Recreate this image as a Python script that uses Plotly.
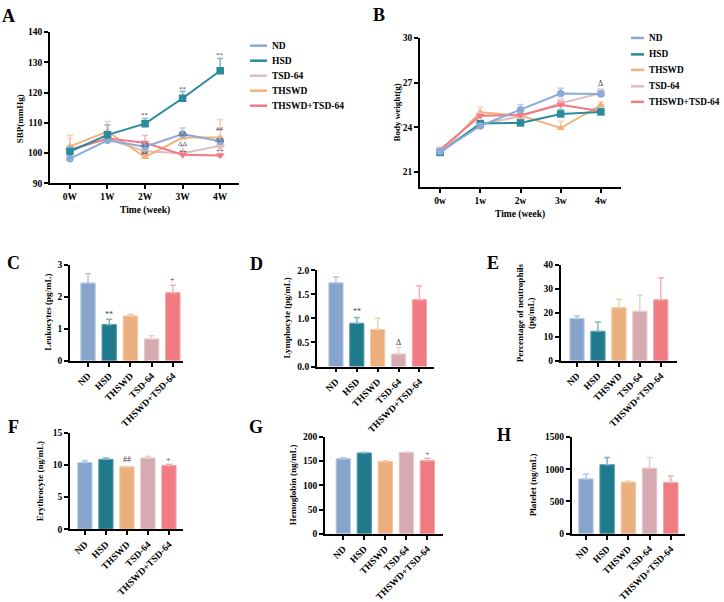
import plotly.graph_objects as go

W, H = 724, 602
FONT = "Liberation Serif"

# ---------------- data ----------------
weeks_A = ["0W", "1W", "2W", "3W", "4W"]
weeks_B = ["0w", "1w", "2w", "3w", "4w"]
groups = ["ND", "HSD", "THSWD", "TSD-64", "THSWD+TSD-64"]

# Panel A: SBP (mmHg)
sbp_nd = [98.1, 104.2, 102.1, 106.3, 103.9]
sbp_nd_err = [0.6, 0.8, 0.8, 2.0, 0.9]
sbp_hsd = [100.5, 106.0, 109.7, 118.1, 127.2]
sbp_hsd_err = [1.6, 3.3, 1.7, 2.3, 4.1]
sbp_tsd = [101.3, 104.6, 100.6, 99.9, 102.4]
sbp_tsd_err = [3.3, 0.8, 1.0, 2.5, 1.5]
sbp_thswd = [102.2, 107.1, 98.6, 105.1, 105.1]
sbp_thswd_err = [3.6, 3.3, 0.8, 1.2, 6.0]
sbp_combo = [101.0, 104.8, 103.4, 99.4, 99.2]
sbp_combo_err = [1.0, 1.2, 2.4, 0.6, 0.6]

sig_A_x = [2, 3, 4, 2, 2, 3, 3, 3, 4, 4, 4]
sig_A_y = [112.6, 121.3, 132.3, 102.6, 100.1, 106.4, 103.1, 100.4, 108.0, 104.4, 100.7]
sig_A_t = ["**", "**", "**", "ΔΔ", "##", "ΔΔ", "ΔΔ", "++", "##", "ΔΔ", "++"]

# Panel B: body weight (g)
bw_nd = [22.38, 24.10, 25.19, 26.27, 26.24]
bw_nd_err = [0.2, 0.15, 0.35, 0.35, 0.2]
bw_hsd = [22.32, 24.26, 24.30, 24.90, 25.04]
bw_hsd_err = [0.1, 0.1, 0.1, 0.3, 0.25]
bw_thswd = [22.27, 25.01, 24.80, 23.96, 25.50]
bw_thswd_err = [0.1, 0.35, 0.15, 0.45, 0.2]
bw_tsd = [22.45, 24.20, 24.75, 25.62, 26.30]
bw_tsd_err = [0.2, 0.1, 0.15, 0.3, 0.3]
bw_combo = [22.50, 24.78, 24.82, 25.52, 25.08]
bw_combo_err = [0.15, 0.2, 0.1, 0.2, 0.15]

# Bar panels
leuk = [2.43, 1.13, 1.40, 0.68, 2.13]
leuk_err = [0.29, 0.17, 0.05, 0.10, 0.23]
lymph = [1.74, 0.90, 0.77, 0.26, 1.39]
lymph_err = [0.12, 0.12, 0.24, 0.14, 0.29]
neut = [17.6, 12.3, 22.1, 20.6, 25.4]
neut_err = [1.2, 3.8, 3.5, 6.7, 9.2]
eryth = [10.4, 10.9, 9.75, 11.1, 9.95]
eryth_err = [0.3, 0.2, 0.05, 0.3, 0.2]
hemo = [155, 167, 149, 168, 151]
hemo_err = [2, 1, 2, 1, 5]
platelet = [850, 1070, 800, 1015, 795]
platelet_err = [75, 110, 15, 165, 100]

# ---------------- styles ----------------
bar_colors = ["#87a5cc", "#1f7a8c", "#ebb07e", "#d5abb1", "#f07b82"]
bar_err_colors = ["#b3c9e5", "#7fb5c1", "#f3cfae", "#ead0d4", "#f6b0b4"]
bar_edge = ["#b8cbe4", "#5a9cab", "#f2c9a3", "#e6c7cb", "#f5a5aa"]

col = {
    "ND": "#8aaad8", "HSD": "#2b8a9c", "THSWD": "#f4b27a",
    "TSD-64": "#e2bcc0", "THSWD+TSD-64": "#f27a82",
}
col_err = {
    "ND": "#b7cbe8", "HSD": "#7fb8c4", "THSWD": "#f8d0ae",
    "TSD-64": "#eed3d6", "THSWD+TSD-64": "#f7b2b6",
}

TICK = 9.5
TITLE = 9


def fx(px):
    return px / W


def fy(py):
    return 1 - py / H


fig = go.Figure()
layout = {}
annotations = []
shapes = []


def paper_text(px, py, text, size, angle=0, xanchor="center", color="black", bold=True):
    annotations.append(dict(
        x=fx(px), y=fy(py), xref="paper", yref="paper", text=text, textangle=angle,
        xanchor=xanchor, yanchor="middle", showarrow=False,
        font=dict(family=FONT, size=size, color=color, weight=("bold" if bold else "normal"))))


def axis_common():
    return dict(showline=True, linecolor="black", linewidth=1.8, ticks="outside",
                ticklen=4, tickwidth=1.5, tickcolor="black", showgrid=False,
                zeroline=False, mirror=False,
                tickfont=dict(family=FONT, size=TICK, color="black", weight="bold"))


def add_axes(i, xdom, ydom, xr, yr, xtickvals, xticktext, ytickvals, xangle=0):
    xs = "xaxis" if i == 1 else f"xaxis{i}"
    ys = "yaxis" if i == 1 else f"yaxis{i}"
    xa = axis_common()
    xa.update(domain=[fx(xdom[0]), fx(xdom[1])], range=xr, tickvals=xtickvals,
              ticktext=xticktext, anchor=("y" if i == 1 else f"y{i}"), tickangle=xangle)
    ya = axis_common()
    ya.update(domain=[fy(ydom[1]), fy(ydom[0])], range=yr, tickvals=ytickvals,
              anchor=("x" if i == 1 else f"x{i}"))
    layout[xs] = xa
    layout[ys] = ya


def data_text(x, y, xr, yr, text, size):
    annotations.append(dict(x=x, y=y, xref=xr, yref=yr, text=text, showarrow=False,
                            xanchor="center", yanchor="middle",
                            font=dict(family=FONT, size=size, color="#444")))


# ---------- Panel A ----------
add_axes(1, (50, 239), (28, 184), [-0.53, 4.5], [90, 140], [0, 1, 2, 3, 4], weeks_A,
         [90, 100, 110, 120, 130, 140])
xw = [0, 1, 2, 3, 4]
A_series = [
    ("TSD-64", sbp_tsd, sbp_tsd_err, "diamond"),
    ("THSWD", sbp_thswd, sbp_thswd_err, "triangle-up"),
    ("THSWD+TSD-64", sbp_combo, sbp_combo_err, "triangle-down"),
    ("ND", sbp_nd, sbp_nd_err, "circle"),
    ("HSD", sbp_hsd, sbp_hsd_err, "square"),
]
for name, ys, es, sym in A_series:
    fig.add_trace(go.Scatter(
        x=xw, y=ys, mode="lines+markers", name=name, showlegend=False,
        line=dict(color=col[name], width=2),
        marker=dict(symbol=sym, size=7.5, color=col[name]),
        error_y=dict(type="data", array=es, arrayminus=[0] * 5, symmetric=False,
                     color=col_err[name], thickness=1.5, width=3),
        xaxis="x", yaxis="y"))
for xx, yy, tt in zip(sig_A_x, sig_A_y, sig_A_t):
    data_text(xx, yy, "x", "y", tt, 7)

# ---------- Panel B ----------
add_axes(2, (420, 621), (34, 188), [-0.5, 4.5], [20, 30], [0, 1, 2, 3, 4], weeks_B,
         [21, 24, 27, 30])
B_series = [
    ("THSWD", bw_thswd, bw_thswd_err, "triangle-up"),
    ("TSD-64", bw_tsd, bw_tsd_err, "x"),
    ("THSWD+TSD-64", bw_combo, bw_combo_err, "triangle-down"),
    ("HSD", bw_hsd, bw_hsd_err, "square"),
    ("ND", bw_nd, bw_nd_err, "circle"),
]
for name, ys, es, sym in B_series:
    fig.add_trace(go.Scatter(
        x=xw, y=ys, mode="lines+markers", name=name, showlegend=False,
        line=dict(color=col[name], width=2),
        marker=dict(symbol=sym, size=7.5, color=col[name]),
        error_y=dict(type="data", array=es, arrayminus=[0] * 5, symmetric=False,
                     color=col_err[name], thickness=1.5, width=3),
        xaxis="x2", yaxis="y2"))
data_text(4, 26.95, "x2", "y2", "Δ", 8)

# ---------- Bar panels ----------
bar_panels = [
    (3, (70, 183), (268.3, 367.3), [-0.85, 4.48], [0, 3], [0, 1, 2, 3], leuk, leuk_err,
     "Leukocytes (pg/mL)", 48, [(1, 1.46, "**"), (4, 2.55, "+")]),
    (4, (317, 434), (274, 373.3), [-0.91, 4.7], [0, 2], [0, 0.5, 1, 1.5, 2], lymph, lymph_err,
     "Lymphocyte (pg/mL)", 287, [(1, 1.14, "**"), (3, 0.50, "Δ")]),
    (5, (560.7, 676.7), (268.3, 367.3), [-0.78, 4.76], [0, 40], [0, 10, 20, 30, 40], neut, neut_err,
     "Percentage of neutrophils<br>(pg/mL)", 525.5, []),
    (6, (70, 183), (442, 541.3), [-0.71, 4.67], [0, 15], [0, 5, 10, 15], eryth, eryth_err,
     "Erythrocyte (ng/mL)", 40, [(2, 10.9, "##"), (4, 10.9, "+")]),
    (7, (325, 442.7), (446, 546), [-0.87, 4.73], [0, 200], [0, 50, 100, 150, 200], hemo, hemo_err,
     "Hemoglobin (ng/mL)", 293, [(4, 166.5, "+")]),
    (8, (571.7, 685), (446, 546), [-0.67, 4.67], [0, 1500], [0, 500, 1000, 1500], platelet, platelet_err,
     "Platelet (ng/mL)", 533, []),
]
for idx, xd, yd, xr, yr, yt, vals, errs, ytitle, tx, sig in bar_panels:
    add_axes(idx, xd, yd, xr, yr, [0, 1, 2, 3, 4], groups, yt, xangle=-45)
    if idx == 4:
        layout[f"yaxis{idx}"]["tickformat"] = ".1f"
    for k in range(5):
        fig.add_trace(go.Bar(
            x=[k], y=[vals[k]], width=0.68, showlegend=False,
            marker=dict(color=bar_colors[k], line=dict(color=bar_edge[k], width=1)),
            error_y=dict(type="data", array=[errs[k]], arrayminus=[0], symmetric=False,
                         color=bar_err_colors[k], thickness=1.5, width=3),
            xaxis=f"x{idx}", yaxis=f"y{idx}"))
    paper_text(tx, (yd[0] + yd[1]) / 2, ytitle, TITLE, angle=-90)
    for sx, sy, st in sig:
        data_text(sx, sy, f"x{idx}", f"y{idx}", st, 8)

# ---------- Axis titles for A/B ----------
paper_text(20, 118, "SBP(mmHg)", TITLE, angle=-90)
paper_text(145, 212, "Time (week)", 9.5)
paper_text(397, 111, "Body weight(g)", TITLE, angle=-90)
paper_text(520, 216, "Time (week)", 9.5)

# ---------- Panel letters ----------
letters = [("A", 8.5, 11), ("B", 379, 10), ("C", 13.5, 266), ("D", 256, 267.5), ("E", 493, 266),
           ("F", 13.5, 436), ("G", 256, 436), ("H", 504, 444.5)]
for t, x, y in letters:
    paper_text(x, y, t, 18)

# ---------- Manual legends ----------
legA = ["ND", "HSD", "TSD-64", "THSWD", "THSWD+TSD-64"]
legA_y = [42, 57.5, 73, 88.5, 104]
for name, py in zip(legA, legA_y):
    shapes.append(dict(type="line", xref="paper", yref="paper", x0=fx(250), x1=fx(267),
                       y0=fy(py), y1=fy(py), line=dict(color=col[name], width=2.5)))
    paper_text(270, py, name, 9.5, xanchor="left")
legB = ["ND", "HSD", "THSWD", "TSD-64", "THSWD+TSD-64"]
legB_y = [34, 51, 67, 84, 100]
for name, py in zip(legB, legB_y):
    shapes.append(dict(type="line", xref="paper", yref="paper", x0=fx(631), x1=fx(644),
                       y0=fy(py), y1=fy(py), line=dict(color=col[name], width=2.5)))
    paper_text(647, py, name, 9.3, xanchor="left")

fig.update_layout(
    width=W, height=H, margin=dict(l=0, r=0, t=0, b=0),
    paper_bgcolor="white", plot_bgcolor="white",
    showlegend=False, barmode="overlay",
    annotations=annotations, shapes=shapes,
    font=dict(family=FONT, color="black"),
    **layout,
)
fig.write_html("out.html", config={"displayModeBar": False},
               post_script="document.body.style.margin='0';document.body.style.padding='0';")
